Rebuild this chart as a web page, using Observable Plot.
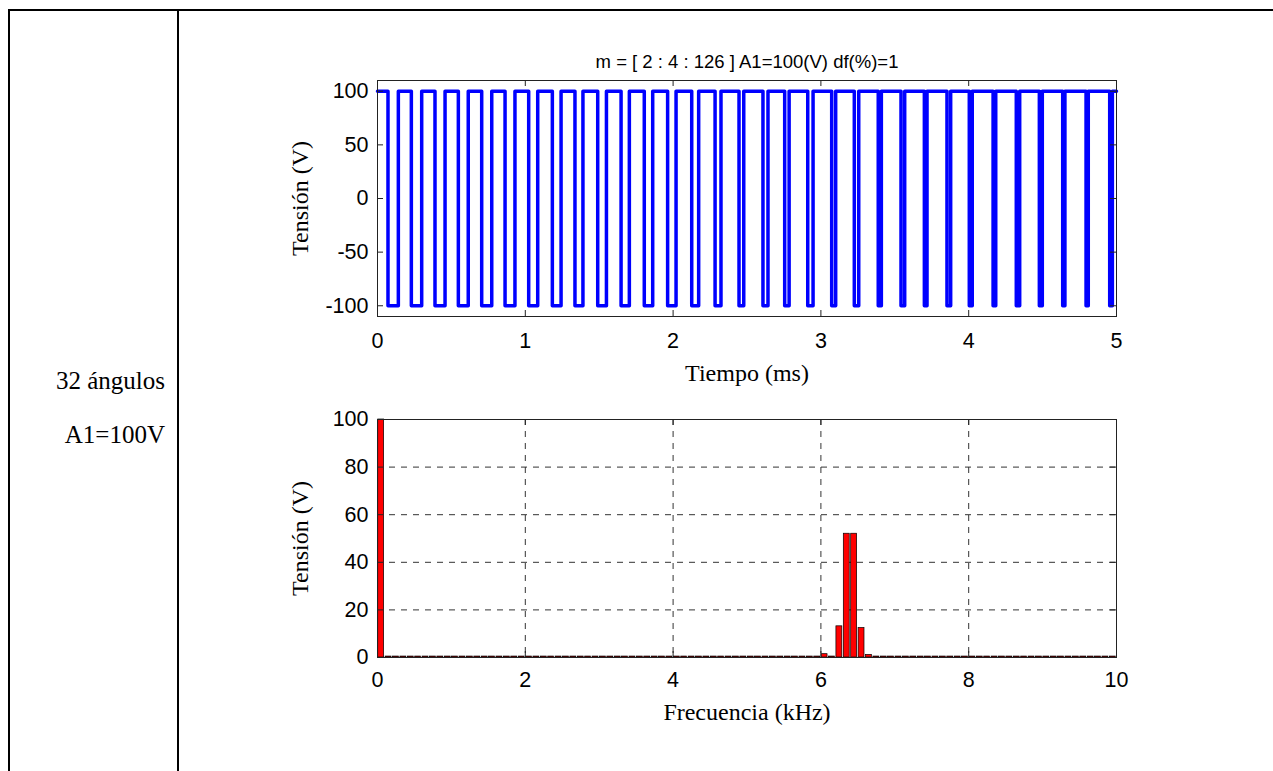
<!DOCTYPE html>
<html><head><meta charset="utf-8">
<script src="https://cdn.jsdelivr.net/npm/d3@7"></script>
<script src="https://cdn.jsdelivr.net/npm/@observablehq/plot@0.6"></script>
<style>
body{margin:0;background:#fff;}
#page{position:relative;width:1273px;height:771px;overflow:hidden;background:#fff;}
.ln{position:absolute;background:#000;}
.lt{position:absolute;font-family:"Liberation Serif","Times New Roman",serif;font-size:25px;color:#000;white-space:nowrap;line-height:30px;}
#top,#bot{position:absolute;left:190px;}
</style></head><body>
<div id="page">
 <div class="ln" style="left:8px;top:9px;width:1265px;height:2px"></div>
 <div class="ln" style="left:8px;top:9px;width:2px;height:762px"></div>
 <div class="ln" style="left:177px;top:9px;width:2px;height:762px"></div>
 <div class="lt" style="left:0;width:165px;text-align:right;top:366px">32 ángulos</div>
 <div class="lt" style="left:0;width:165px;text-align:right;top:420px">A1=100V</div>
 <div id="top" style="top:20px"></div>
 <div id="bot" style="top:400px"></div>
</div>
<script>
// ---------- data ----------
const title = "m = [ 2 : 4 : 126 ] A1=100(V) df(%)=1";
// switching instants (ms): each pair = fall to -100 then rise to +100
const fallTimes = [0.071,0.229,0.389,0.547,0.705,0.863,1.023,1.183,1.336,1.490,1.648,1.805,1.963,2.126,2.284,2.446,
                   2.608,2.755,2.911,3.073,3.226,3.388,3.542,3.700,3.853,4.004,4.165,4.322,4.478,4.636,4.794,4.954];
const riseTimes = [0.141,0.299,0.457,0.614,0.773,0.930,1.084,1.242,1.390,1.549,1.704,1.862,2.020,2.173,2.324,2.478,
                   2.642,2.785,2.947,3.100,3.256,3.409,3.567,3.718,3.878,4.024,4.183,4.345,4.498,4.651,4.809,4.972];
const highLevel = 100, lowLevel = -100, tEnd = 5;
const timeTicks = [0,1,2,3,4,5];
const voltTicks = [-100,-50,0,50,100];

// spectrum: odd harmonics of 50 Hz (1,3,5,...,199)
const harmonicOrders = d3.range(1, 200, 2);
const harmonicAmps = [
 100,0.4,0.4,0.4,0.4,0.4,0.4,0.4,0.4,0.4,
 0.4,0.4,0.4,0.4,0.4,0.4,0.4,0.4,0.4,0.4,
 0.4,0.4,0.4,0.4,0.4,0.4,0.4,0.4,0.4,0.4,
 0.4,0.4,0.4,0.4,0.4,0.4,0.4,0.4,0.4,0.4,
 0.4,0.4,0.4,0.4,0.4,0.4,0.4,0.4,0.4,0.4,
 0.4,0.4,0.4,0.4,0.4,0.4,0.4,0.4,0.4,0.4,
 1.4,0.4,13.1,52,52,12.4,1.1,0.4,0.4,0.4,
 0.4,0.4,0.4,0.4,0.4,0.4,0.4,0.4,0.4,0.4,
 0.4,0.4,0.4,0.4,0.4,0.4,0.4,0.4,0.4,0.4,
 0.4,0.4,0.4,0.4,0.4,0.4,0.4,0.4,0.4,0.4];
const fundamentalKHz = 0.05;
const barHalf = 0.04;
const freqTicks = [0,2,4,6,8,10];
const specTicks = [0,20,40,60,80,100];
const gridX = [2,4,6,8], gridY = [20,40,60,80];

// ---------- build tables ----------
const wave = [{t:0, v:highLevel}];
fallTimes.forEach((f,i)=>{ wave.push({t:f, v:lowLevel}); wave.push({t:riseTimes[i], v:highLevel}); });
wave.push({t:tEnd, v:highLevel});
const spec = harmonicOrders.map((h,i)=>({f:h*fundamentalKHz, v:harmonicAmps[i]}));

const sans = "Liberation Sans, Arial, sans-serif";
const serif = "Liberation Serif, Times New Roman, serif";
const tickFS = 21.5, labFS = 24;
const axisColor = "#222";

function boxTicks(xt, yt, W, H){
  const L = 6;
  return [
    Plot.tickX(xt, {x:d=>d, insetTop:H-L, stroke:axisColor}),
    Plot.tickX(xt, {x:d=>d, insetBottom:H-L, stroke:axisColor}),
    Plot.tickY(yt, {y:d=>d, insetRight:W-L, stroke:axisColor}),
    Plot.tickY(yt, {y:d=>d, insetLeft:W-L, stroke:axisColor}),
    Plot.frame({stroke:axisColor, strokeWidth:1})
  ];
}
function labels(xt, yt, xLabel, xTickDy, xLabDy){
  return [
    Plot.text(xt, {x:d=>d, frameAnchor:"bottom", lineAnchor:"middle", dy:xTickDy, text:d=>String(d), fontSize:tickFS, fontFamily:sans}),
    Plot.text(yt, {y:d=>d, frameAnchor:"left", dx:-9, textAnchor:"end", lineAnchor:"middle", text:d=>String(d), fontSize:tickFS, fontFamily:sans}),
    Plot.text([xLabel], {frameAnchor:"bottom", lineAnchor:"middle", textAnchor:"middle", dy:xLabDy, text:d=>d, fontSize:labFS, fontFamily:serif}),
    Plot.text(["Tensión (V)"], {frameAnchor:"left", textAnchor:"middle", lineAnchor:"middle", dx:-77, rotate:-90, text:d=>d, fontSize:labFS, fontFamily:serif})
  ];
}

// ---------- top chart ----------
{
  const width=1083, height=380, mL=187, mR=157, mT=60, mB=84;
  const W = width-mL-mR, H = height-mT-mB;
  const chart = Plot.plot({
    width, height, marginLeft:mL, marginRight:mR, marginTop:mT, marginBottom:mB,
    style:{background:"transparent"},
    x:{domain:[0,5], axis:null},
    y:{domain:[-110,110], axis:null},
    marks:[
      Plot.line(wave, {x:"t", y:"v", curve:"step-after", stroke:"#0000ff", strokeWidth:3.5}),
      ...boxTicks(timeTicks, voltTicks, W, H),
      ...labels(timeTicks, voltTicks, "Tiempo (ms)", 25, 57),
      Plot.text([title], {frameAnchor:"top", lineAnchor:"middle", textAnchor:"middle", dy:-18, text:d=>d, fontSize:18.5, fontFamily:sans})
    ]
  });
  document.getElementById("top").appendChild(chart);
}

// ---------- bottom chart ----------
{
  const width=1083, height=371, mL=187, mR=157, mT=19, mB=114;
  const W = width-mL-mR, H = height-mT-mB;
  const chart = Plot.plot({
    width, height, marginLeft:mL, marginRight:mR, marginTop:mT, marginBottom:mB,
    style:{background:"transparent"},
    x:{domain:[0,10], axis:null},
    y:{domain:[0,100], axis:null},
    marks:[
      Plot.ruleX(gridX, {x:d=>d, stroke:"#333", strokeDasharray:"6,6"}),
      Plot.ruleY(gridY, {y:d=>d, stroke:"#333", strokeDasharray:"6,6"}),
      Plot.rect(spec, {x1:d=>d.f-barHalf, x2:d=>d.f+barHalf, y1:0, y2:d=>d.v, fill:"#ff0000", stroke:"#000", strokeWidth:0.7}),
      ...boxTicks(freqTicks, specTicks, W, H),
      ...labels(freqTicks, specTicks, "Frecuencia (kHz)", 23, 55)
    ]
  });
  document.getElementById("bot").appendChild(chart);
}
</script>
</body></html>
